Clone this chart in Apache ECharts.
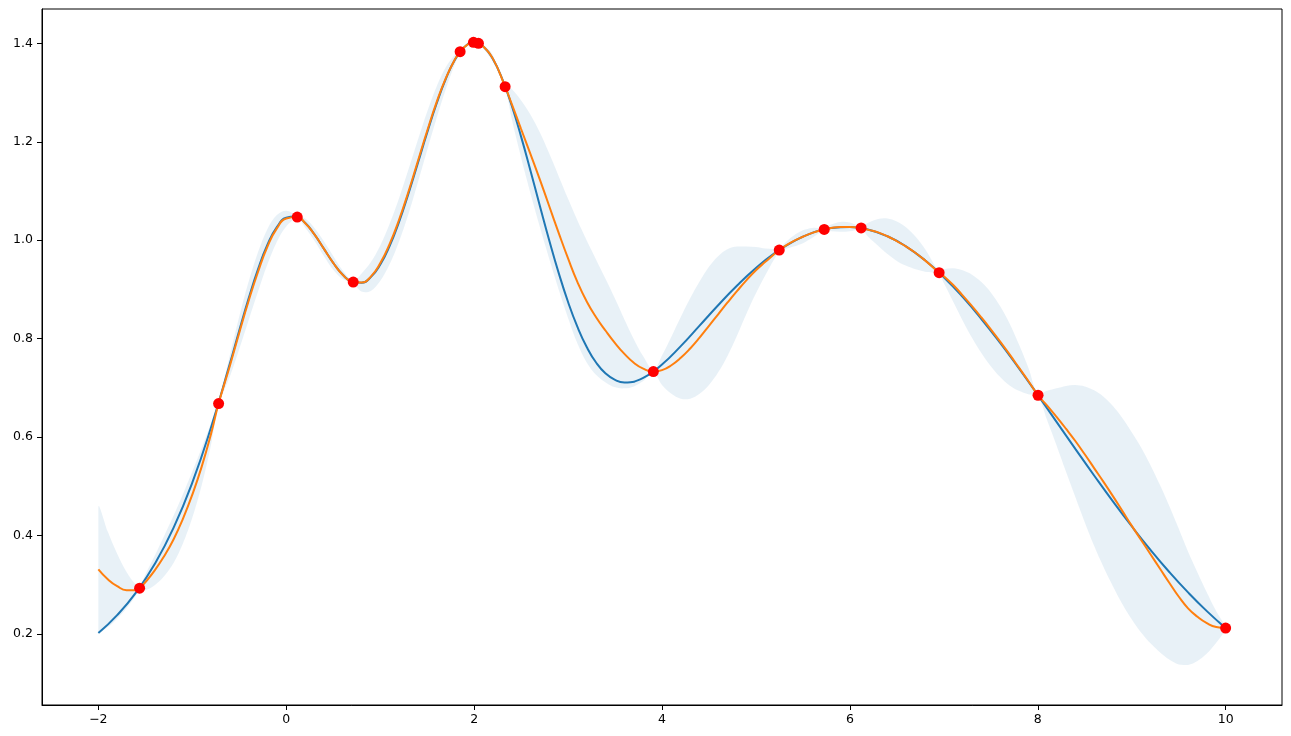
<!DOCTYPE html>
<html>
<head>
<meta charset="utf-8">
<script src="https://cdn.jsdelivr.net/npm/echarts@6/dist/echarts.min.js"></script>
<style>
html,body{margin:0;padding:0;background:#fff;}
#chart{width:1291px;height:736px;}
</style>
</head>
<body>
<div id="chart"></div>
<script>
// True function (blue)
const blueX = [-2.0,-1.8,-1.6,-1.4,-1.2,-1.0,-0.8,-0.6,-0.5,-0.4,-0.3,-0.2,-0.1,0.0,0.1,0.2,0.3,0.4,0.5,0.6,0.7,0.8,0.9,1.0,1.1,1.2,1.3,1.4,1.5,1.6,1.7,1.8,1.9,2.0,2.1,2.2,2.3,2.4,2.5,2.6,2.7,2.8,2.9,3.0,3.1,3.2,3.3,3.4,3.5,3.6,3.8,4.0,4.2,4.4,4.6,4.8,5.0,5.2,5.4,5.6,5.8,6.0,6.2,6.4,6.6,6.8,7.0,7.2,7.4,7.6,7.8,8.0,8.2,8.4,8.6,8.8,9.0,9.2,9.4,9.6,9.8,10.0];
const blueY = [0.2017,0.2381,0.2840,0.3420,0.4154,0.5076,0.6200,0.7493,0.8166,0.8819,0.9413,0.9908,1.0265,1.0456,1.0480,1.0353,1.0118,0.9829,0.9540,0.9303,0.9159,0.9137,0.9250,0.9500,0.9880,1.0369,1.0941,1.1560,1.2185,1.2773,1.3284,1.3680,1.3931,1.4019,1.3933,1.3680,1.3273,1.2737,1.2105,1.1413,1.0697,0.9996,0.9337,0.8745,0.8238,0.7825,0.7510,0.7291,0.7162,0.7111,0.7202,0.7475,0.7848,0.8264,0.8683,0.9079,0.9434,0.9737,0.9978,1.0150,1.0249,1.0270,1.0214,1.0080,0.9871,0.9592,0.9248,0.8848,0.8399,0.7912,0.7394,0.6857,0.6309,0.5761,0.5220,0.4693,0.4188,0.3708,0.3259,0.2844,0.2463,0.2118];

// GP posterior mean (orange) and half width of the shaded band
const gpX = [-2.0,-1.9,-1.8,-1.7,-1.6,-1.561,-1.5,-1.4,-1.3,-1.2,-1.1,-1.0,-0.9,-0.8,-0.72,-0.6,-0.5,-0.4,-0.3,-0.2,-0.1,0.0,0.117,0.2,0.3,0.4,0.5,0.6,0.713,0.8,0.9,1.0,1.1,1.2,1.3,1.4,1.5,1.6,1.7,1.8,1.851,1.9,1.993,2.046,2.1,2.2,2.33,2.4,2.5,2.6,2.7,2.8,2.9,3.0,3.1,3.2,3.3,3.4,3.5,3.6,3.7,3.8,3.908,4.0,4.1,4.2,4.3,4.4,4.5,4.6,4.7,4.8,4.9,5.0,5.1,5.248,5.3,5.4,5.5,5.6,5.727,5.8,5.9,6.0,6.12,6.2,6.3,6.4,6.5,6.6,6.7,6.8,6.95,7.0,7.1,7.2,7.3,7.4,7.5,7.6,7.7,7.8,7.9,8.003,8.1,8.2,8.3,8.4,8.5,8.6,8.7,8.8,8.9,9.0,9.1,9.2,9.3,9.4,9.5,9.6,9.7,9.8,9.9,10.0];
const gpMean = [0.331,0.311,0.297,0.289,0.289,0.293,0.305,0.329,0.358,0.392,0.434,0.483,0.540,0.607,0.668,0.745,0.812,0.877,0.936,0.987,1.024,1.044,1.047,1.035,1.012,0.983,0.954,0.930,0.915,0.914,0.926,0.953,0.992,1.041,1.098,1.160,1.222,1.280,1.330,1.369,1.383,1.393,1.402,1.400,1.393,1.369,1.312,1.277,1.226,1.175,1.123,1.069,1.015,0.963,0.915,0.875,0.843,0.816,0.791,0.769,0.751,0.739,0.733,0.736,0.746,0.761,0.780,0.802,0.826,0.850,0.874,0.897,0.919,0.939,0.956,0.980,0.987,0.998,1.007,1.015,1.022,1.025,1.027,1.027,1.025,1.021,1.016,1.008,0.998,0.987,0.974,0.959,0.934,0.927,0.909,0.888,0.866,0.843,0.819,0.794,0.768,0.741,0.714,0.685,0.664,0.641,0.617,0.592,0.565,0.537,0.509,0.480,0.450,0.420,0.391,0.362,0.333,0.304,0.276,0.252,0.235,0.222,0.214,0.212];
const gpHalfWidth = [0.127,0.097,0.066,0.037,0.011,0.003,0.016,0.030,0.041,0.048,0.050,0.047,0.038,0.022,0.003,0.022,0.033,0.039,0.040,0.036,0.027,0.016,0.003,0.009,0.013,0.015,0.014,0.009,0.003,0.018,0.029,0.036,0.041,0.044,0.045,0.043,0.039,0.032,0.022,0.009,0.003,0.003,0.002,0.002,0.004,0.007,0.003,0.030,0.058,0.080,0.096,0.107,0.115,0.121,0.125,0.124,0.117,0.105,0.090,0.070,0.048,0.025,0.003,0.030,0.058,0.083,0.102,0.114,0.120,0.118,0.108,0.090,0.068,0.047,0.027,0.003,0.006,0.011,0.013,0.010,0.003,0.007,0.010,0.009,0.003,0.015,0.027,0.036,0.040,0.039,0.033,0.023,0.003,0.014,0.034,0.051,0.064,0.072,0.075,0.072,0.063,0.047,0.027,0.003,0.030,0.058,0.087,0.114,0.138,0.158,0.173,0.183,0.189,0.190,0.188,0.181,0.170,0.156,0.138,0.115,0.090,0.062,0.032,0.003];

// Observations (red)
const obsX = [-1.561,-0.720,0.117,0.713,1.851,1.993,2.046,2.330,3.908,5.248,5.727,6.120,6.950,8.003,10.0];
const obsY = [0.293,0.668,1.047,0.915,1.383,1.402,1.400,1.312,0.733,0.980,1.022,1.025,0.934,0.685,0.212];

// Ticks
const xTicks = [-2,0,2,4,6,8,10];
const xTickLabels = ['\u22122','0','2','4','6','8','10'];
const yTicks = [0.2,0.4,0.6,0.8,1.0,1.2,1.4];
const yTickLabels = ['0.2','0.4','0.6','0.8','1.0','1.2','1.4'];

const pairs = (xs, ys) => xs.map((x, i) => [x, ys[i]]);
const bandUpper = gpX.map((x, i) => [x, gpMean[i] + gpHalfWidth[i]]);
const bandLower = gpX.map((x, i) => [x, gpMean[i] - gpHalfWidth[i]]);
const lookup = (ticks, labels) => v => {
  for (let i = 0; i < ticks.length; i++) if (Math.abs(ticks[i] - v) < 1e-6) return labels[i];
  return '';
};

function renderBand(params, api) {
  if (params.dataIndex !== 0) return null;
  const up = bandUpper.map(p => api.coord(p));
  const lo = bandLower.map(p => api.coord(p)).reverse();
  const pts = up.concat(lo);
  let minX = Infinity, minY = Infinity, maxX = -Infinity, maxY = -Infinity;
  pts.forEach(p => { minX = Math.min(minX, p[0]); maxX = Math.max(maxX, p[0]); minY = Math.min(minY, p[1]); maxY = Math.max(maxY, p[1]); });
  return {
    type: 'polygon',
    shape: {points: pts, smooth: 0.35, smoothConstraint: [[minX, minY], [maxX, maxY]]},
    style: {fill: 'rgba(31,119,180,0.1)', stroke: null}
  };
}

const chart = echarts.init(document.getElementById('chart'), null, {renderer: 'canvas'});
const font = {color: '#000', fontSize: 12.5, fontFamily: 'DejaVu Sans'};
chart.setOption({
  animation: false,
  backgroundColor: '#fff',
  grid: {left: 42, right: 9, top: 9, bottom: 31, show: true, borderColor: '#000', borderWidth: 1, containLabel: false},
  xAxis: {
    type: 'value', min: -2.6, max: 10.6,
    splitLine: {show: false},
    axisLine: {show: true, onZero: false, lineStyle: {color: '#000', width: 1}},
    axisTick: {show: true, inside: false, length: 5, lineStyle: {color: '#000', width: 1}, customValues: xTicks},
    axisLabel: Object.assign({customValues: xTicks, formatter: lookup(xTicks, xTickLabels), margin: 8}, font)
  },
  yAxis: {
    type: 'value', min: 0.0556, max: 1.4698,
    splitLine: {show: false},
    axisLine: {show: true, onZero: false, lineStyle: {color: '#000', width: 1}},
    axisTick: {show: true, inside: false, length: 5, lineStyle: {color: '#000', width: 1}, customValues: yTicks},
    axisLabel: Object.assign({customValues: yTicks, formatter: lookup(yTicks, yTickLabels), margin: 9}, font)
  },
  series: [
    {type: 'custom', name: 'band', coordinateSystem: 'cartesian2d', data: [[gpX[0], gpMean[0]]],
     renderItem: renderBand, silent: true, z: 1},
    {type: 'line', name: 'f', data: pairs(blueX, blueY), smooth: 0.5, symbol: 'none', silent: true,
     lineStyle: {color: '#1f77b4', width: 2}, z: 2},
    {type: 'line', name: 'mean', data: pairs(gpX, gpMean), smooth: 0.5, symbol: 'none', silent: true,
     lineStyle: {color: '#ff7f0e', width: 2}, z: 3},
    {type: 'scatter', name: 'obs', data: pairs(obsX, obsY), symbol: 'circle', symbolSize: 11, silent: true,
     itemStyle: {color: '#ff0000', opacity: 1}, z: 4}
  ]
});
</script>
</body>
</html>
